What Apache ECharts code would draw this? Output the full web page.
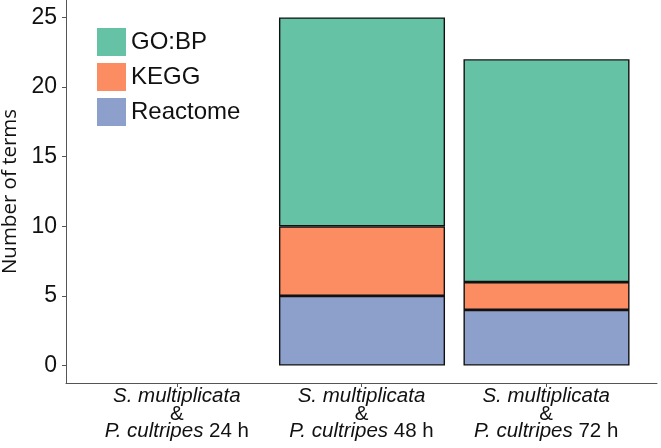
<!DOCTYPE html>
<html>
<head>
<meta charset="utf-8">
<script src="https://cdn.jsdelivr.net/npm/echarts@6/dist/echarts.min.js"></script>
<style>
html,body{margin:0;padding:0;background:#fff;}
#chart{width:661px;height:448px;}
</style>
</head>
<body>
<div id="chart"></div>
<script>
// ---- data ----
var speciesA = ['S. multiplicata', 'S. multiplicata', 'S. multiplicata'];
var speciesB = ['P. cultripes', 'P. cultripes', 'P. cultripes'];
var timepoints = ['24 h', '48 h', '72 h'];
var seriesNames = ['GO:BP', 'KEGG', 'Reactome'];
var goBP = [0, 15, 16];
var kegg = [0, 5, 2];
var reactome = [0, 5, 4];
var yTicks = [0, 5, 10, 15, 20, 25];

var colors = {'GO:BP': '#66c2a5', 'KEGG': '#fc8d62', 'Reactome': '#8da0cb'};
var xPos = timepoints.map(function (t, i) { return i + 1; });

var font = 'Liberation Sans, Arial, sans-serif';
var yMin = -1.25, yMax = 26.25;

function mkSeries(name, arr) {
  return {
    name: name,
    type: 'bar',
    stack: 'total',
    xAxisIndex: 1,
    yAxisIndex: 1,
    barWidth: '90%',
    data: arr.map(function (v) { return v === 0 ? null : v; }),
    itemStyle: { color: colors[name], borderColor: '#111', borderWidth: 1.4 },
    emphasis: { disabled: true }
  };
}

var chart = echarts.init(document.getElementById('chart'), null, { renderer: 'canvas' });
chart.setOption({
  animation: false,
  backgroundColor: '#fff',
  grid: [
    { left: 66, right: 4, top: 0, bottom: 65, containLabel: false, outerBoundsMode: 'none' },
    { left: 85.25, right: 22.25, top: 0, bottom: 65, containLabel: false, outerBoundsMode: 'none' }
  ],
  legend: {
    orient: 'vertical',
    left: 97, top: 28,
    padding: 0,
    itemWidth: 29, itemHeight: 28, itemGap: 7,
    icon: 'rect',
    data: seriesNames,
    itemStyle: { borderWidth: 0 },
    textStyle: { fontFamily: font, fontSize: 24, color: '#111' },
    selectedMode: false
  },
  xAxis: [{
    type: 'value',
    gridIndex: 0,
    min: 0.4, max: 3.6,
    splitLine: { show: false },
    axisLine: { show: true, onZero: false, lineStyle: { color: '#555', width: 1 } },
    axisTick: { show: true, length: 4, customValues: xPos, lineStyle: { color: '#555' } },
    axisLabel: {
      show: true,
      customValues: xPos,
      margin: 5,
      formatter: function (v) {
        var i = Math.round(v) - 1;
        return '{i|' + speciesA[i] + '}\n{n|&}\n{i|' + speciesB[i] + '}{n| ' + timepoints[i] + '}';
      },
      rich: {
        i: { fontFamily: font, fontStyle: 'italic', fontSize: 20.5, lineHeight: 17.5, color: '#111' },
        n: { fontFamily: font, fontSize: 20.5, lineHeight: 17.5, color: '#111' }
      }
    }
  }, {
    type: 'category',
    gridIndex: 1,
    data: timepoints,
    show: false
  }],
  yAxis: [{
    type: 'value',
    gridIndex: 0,
    min: yMin, max: yMax,
    name: 'Number of terms',
    nameLocation: 'middle',
    nameGap: 41,
    nameTextStyle: { fontFamily: 'Open Sans, sans-serif', fontSize: 20.5, color: '#111' },
    splitLine: { show: false },
    axisLine: { show: true, onZero: false, lineStyle: { color: '#555', width: 1 } },
    axisTick: { show: true, length: 4, customValues: yTicks, lineStyle: { color: '#555' } },
    axisLabel: { customValues: yTicks, margin: 9, fontFamily: font, fontSize: 23, color: '#111' }
  }, {
    type: 'value',
    gridIndex: 1,
    min: yMin, max: yMax,
    show: false,
    splitLine: { show: false }
  }],
  series: [
    mkSeries('Reactome', reactome),
    mkSeries('KEGG', kegg),
    mkSeries('GO:BP', goBP)
  ]
});
</script>
</body>
</html>
